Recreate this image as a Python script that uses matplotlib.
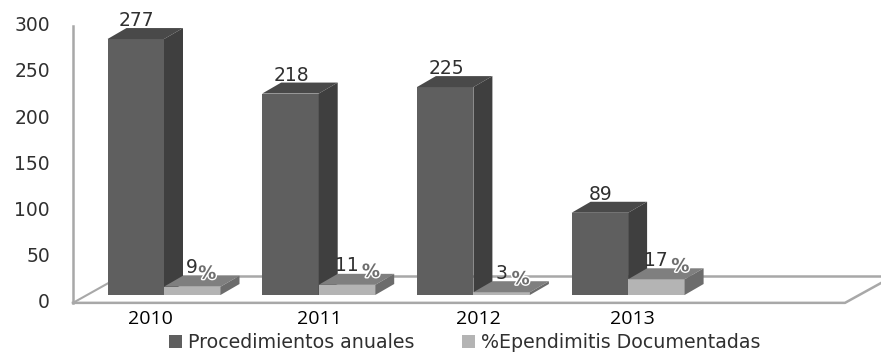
import matplotlib
matplotlib.use('Agg')
import matplotlib.pyplot as plt
from matplotlib.patches import Polygon, Patch
from matplotlib import patheffects

years = ['2010', '2011', '2012', '2013']
procedimientos = [277, 218, 225, 89]
ependimitis = [9, 11, 3, 17]
y_ticks = [0, 50, 100, 150, 200, 250, 300]

W, H = 881, 352
PX_X = 154.7        # pixels per category
PX_Y = 0.924        # pixels per unit
X0 = 164.0          # pixel of the first category centre
Y0 = 295.0          # pixel of the bar base

BAR_W = 56.5 / PX_X
DX = 19 / PX_X      # 3d depth offset of the bars
DY = 11 / PX_Y
FRONT = -8.5        # front edge of the floor, below the bar base

fig = plt.figure(figsize=(W / 100, H / 100), dpi=100)
ax = fig.add_axes([0, 0, 1, 1])
ax.set_xlim(-X0 / PX_X, (W - X0) / PX_X)
ax.set_ylim((Y0 - H) / PX_Y, Y0 / PX_Y)
ax.axis('off')


def bar3d(x, w, h, front, top, side, z):
    ax.add_patch(Polygon([(x, 0), (x + w, 0), (x + w, h), (x, h)], fc=front, ec='none', zorder=z))
    ax.add_patch(Polygon([(x, h), (x + w, h), (x + w + DX, h + DY), (x + DX, h + DY)], fc=top, ec='none', zorder=z))
    ax.add_patch(Polygon([(x + w, 0), (x + w + DX, DY), (x + w + DX, h + DY), (x + w, h)], fc=side, ec='none', zorder=z))


# floor and wall lines
axis_c = '#a8a8a8'
left = (73 - X0) / PX_X
floor_right = (845 - X0) / PX_X
floor_dx = 36 / PX_X
back = (Y0 - 276) / PX_Y
ax.plot([left, left], [FRONT, 300 + FRONT], color=axis_c, lw=1.8, zorder=1)
ax.plot([left, floor_right, floor_right + floor_dx], [FRONT, FRONT, back - 7 / PX_Y],
        color=axis_c, lw=1.8, zorder=1)
ax.plot([left, left + 48 / PX_X], [FRONT, back], color=axis_c, lw=1.5, zorder=1)
ax.plot([left + 48 / PX_X, ax.get_xlim()[1]], [back, back], color=axis_c, lw=1.8, zorder=1)

# the year labels do not sit evenly under the groups
year_nudge = [-13.5, 1, 5, 4]

for i, year in enumerate(years):
    bar3d(i - BAR_W, BAR_W, procedimientos[i], '#5f5f5f', '#494949', '#3f3f3f', 2 + i)
    bar3d(i, BAR_W, ependimitis[i], '#b4b4b4', '#7f7f7f', '#6c6c6c', 2 + i)

    ax.text(i - BAR_W / 2 + 1 / PX_X, procedimientos[i] + DY - 2.5, str(procedimientos[i]),
            ha='center', va='bottom', fontsize=13.5, color='#303030', zorder=20)
    ax.text(i + BAR_W / 2, ependimitis[i] + 19 / PX_Y, str(ependimitis[i]),
            ha='center', va='center', fontsize=13.5, color='#303030', zorder=20)
    shift = (15 if ependimitis[i] == 9 else 19 if ependimitis[i] == 3 else 24) / PX_X
    pct = ax.text(i + BAR_W / 2 + shift, ependimitis[i] + 13 / PX_Y, '%',
                  ha='center', va='center', fontsize=13, fontweight='bold', color='#6e6e6e', zorder=21)
    pct.set_path_effects([patheffects.withStroke(linewidth=2, foreground='white')])
    ax.text(i + year_nudge[i] / PX_X, (Y0 - 319) / PX_Y, year, ha='center', va='center', fontsize=14,
            family='Open Sans', color='black', zorder=20)

for t in y_ticks:
    ax.text((50 - X0) / PX_X, t + FRONT, str(t), ha='right', va='center',
            fontsize=13.5, color='#303030')

handles = [Patch(fc='#5f5f5f', ec='none'), Patch(fc='#b4b4b4', ec='none')]
ax.legend(handles, ['Procedimientos anuales', '%Ependimitis Documentadas'],
          ncol=2, loc='lower center', bbox_to_anchor=(464.5 / W, 0.0), frameon=False,
          fontsize=13.7, handlelength=0.7, handleheight=0.7, handletextpad=0.3,
          columnspacing=2.5, labelcolor='#303030', borderpad=0.0, borderaxespad=0.0)

fig.savefig('out.png', dpi=100, facecolor='white')
